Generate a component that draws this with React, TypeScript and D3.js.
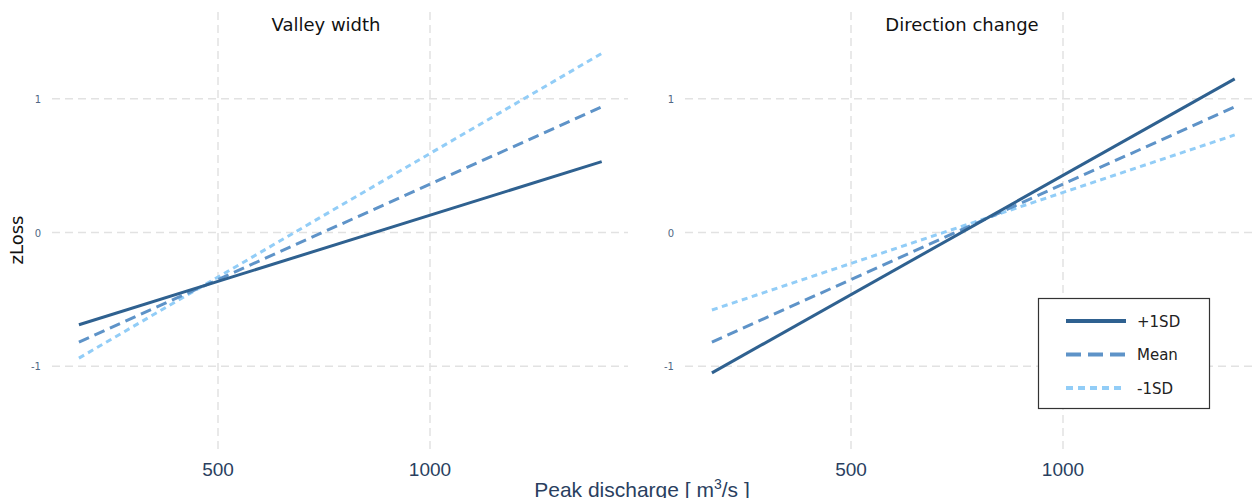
import React from "react";
import * as d3 from "d3";

// ---- data ----
const panelTitles = ["Valley width", "Direction change"];
const seriesNames = ["+1SD", "Mean", "-1SD"];
const xEnds = [172, 1405]; // peak discharge at line endpoints
// zLoss at the two endpoints, per panel, per series
const valleyPlus = [-0.69, 0.53];
const valleyMean = [-0.82, 0.94];
const valleyMinus = [-0.94, 1.34];
const dirPlus = [-1.05, 1.15];
const dirMean = [-0.82, 0.94];
const dirMinus = [-0.58, 0.73];
const xTicks = [500, 1000];
const yTicks = [-1, 0, 1];
const xDomain = [108.5, 1467];
const yDomain = [-1.65, 1.65];

const panelData = [
  [valleyPlus, valleyMean, valleyMinus],
  [dirPlus, dirMean, dirMinus],
];

// ---- styles ----
const W = 1253;
const H = 498;
const panelX = [
  [52, 628],
  [685, 1261],
];
const plotTop = 12;
const plotBottom = 453;
const titleX = [326, 962];
const seriesColor = ["#2f6190", "#5e93c8", "#92cdf7"];
const seriesDash = [null, "11,6", "6,4.5"];
const legendDash = [null, "15,7", "7,5"];
const gridColor = "#e2e2e2";
const tickColor = "#2a3f5f";

export default function App() {
  const y = d3.scaleLinear().domain(yDomain).range([plotBottom, plotTop]);
  const line = d3
    .line<[number, number]>()
    .x((d) => d[0])
    .y((d) => d[1]);

  return (
    <svg
      width={W}
      height={H}
      style={{ position: "absolute", left: 0, top: 0, background: "#fff" }}
    >
      {panelX.map((range, pi) => {
        const x = d3.scaleLinear().domain(xDomain).range(range);
        return (
          <g key={pi}>
            {yTicks.map((t) => (
              <g key={"y" + t}>
                <line
                  x1={range[0]}
                  x2={range[1]}
                  y1={y(t)}
                  y2={y(t)}
                  stroke={gridColor}
                  strokeWidth={1.5}
                  strokeDasharray="8,5"
                />
                <text
                  x={range[0] - 11}
                  y={y(t) + 4}
                  textAnchor="end"
                  fontFamily="DejaVu Sans, Verdana, sans-serif"
                  fontSize={10}
                  fill="#506784"
                >
                  {t}
                </text>
              </g>
            ))}
            {xTicks.map((t) => (
              <g key={"x" + t}>
                <line
                  x1={x(t)}
                  x2={x(t)}
                  y1={plotTop}
                  y2={plotBottom}
                  stroke={gridColor}
                  strokeWidth={1.5}
                  strokeDasharray="8,5"
                />
                <text
                  x={x(t)}
                  y={476}
                  textAnchor="middle"
                  fontFamily="Liberation Sans, Arial, sans-serif"
                  fontSize={19}
                  fill={tickColor}
                >
                  {t}
                </text>
              </g>
            ))}
            {panelData[pi]
              .map((vals, si) => ({ vals, si }))
              .reverse()
              .map(({ vals, si }) => (
                <path
                  key={si}
                  d={
                    line(
                      xEnds.map((xv, k) => [x(xv), y(vals[k])] as [number, number])
                    ) || ""
                  }
                  fill="none"
                  stroke={seriesColor[si]}
                  strokeWidth={3}
                  strokeDasharray={seriesDash[si] || undefined}
                />
              ))}
            <text
              x={titleX[pi]}
              y={31}
              textAnchor="middle"
              fontFamily="DejaVu Sans, Verdana, sans-serif"
              fontSize={18}
              fill="#111"
            >
              {panelTitles[pi]}
            </text>
          </g>
        );
      })}

      <text
        transform="translate(23,240) rotate(-90)"
        textAnchor="middle"
        fontFamily="DejaVu Sans, Verdana, sans-serif"
        fontSize={18}
        fill="#111"
      >
        zLoss
      </text>

      <text
        x={642}
        y={497}
        textAnchor="middle"
        fontFamily="Liberation Sans, Arial, sans-serif"
        fontSize={21}
        fill={tickColor}
      >
        Peak discharge [ m
        <tspan dy={-8} fontSize={14}>
          3
        </tspan>
        <tspan dy={8}>/s ]</tspan>
      </text>

      <g>
        <rect
          x={1038.5}
          y={298.5}
          width={171}
          height={110}
          fill="#fff"
          stroke="#333"
          strokeWidth={1.2}
        />
        {seriesNames.map((name, si) => {
          const ly = 321 + si * 33.5;
          return (
            <g key={name}>
              <line
                x1={1066}
                x2={1126}
                y1={ly}
                y2={ly}
                stroke={seriesColor[si]}
                strokeWidth={4}
                strokeDasharray={legendDash[si] || undefined}
              />
              <text
                x={1137}
                y={ly + 5.5}
                fontFamily="DejaVu Sans, Verdana, sans-serif"
                fontSize={15}
                fill="#222"
              >
                {name}
              </text>
            </g>
          );
        })}
      </g>
    </svg>
  );
}
